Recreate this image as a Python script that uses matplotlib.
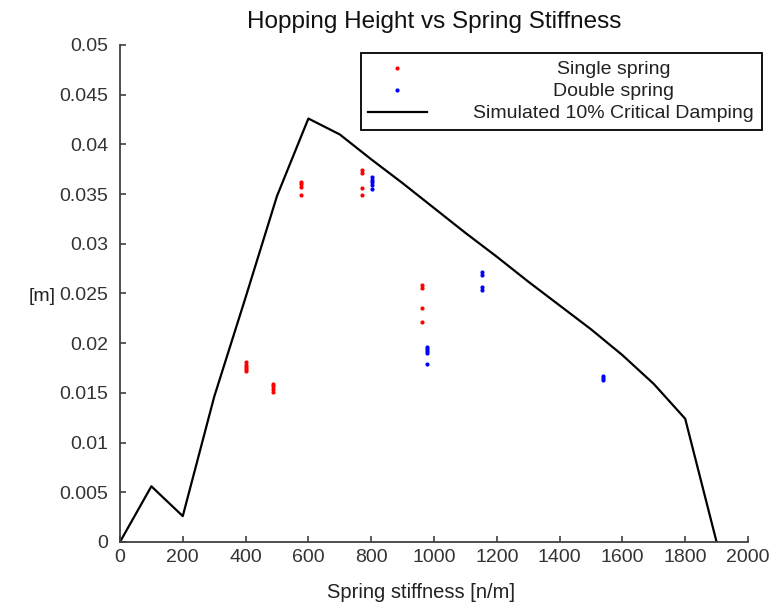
import numpy as np
import matplotlib
matplotlib.use("Agg")
import matplotlib.pyplot as plt

plt.rcParams['font.family'] = ['Liberation Sans', 'DejaVu Sans']

# simulated curve, 10% critical damping
k_sim = [0, 100, 200, 300, 400, 500, 600, 700, 800, 900, 1000, 1100,
         1200, 1300, 1400, 1500, 1600, 1700, 1800, 1900]
h_sim = [0, 0.0056, 0.0026, 0.0146, 0.0246, 0.0348, 0.0426, 0.0410, 0.0385,
         0.0361, 0.0336, 0.0311, 0.0287, 0.0262, 0.0238, 0.0214, 0.0188,
         0.0159, 0.0124, 0]

# measured, single spring
k_single = [400, 400, 400, 400, 400, 488, 488, 488, 488,
            577, 577, 577, 577, 770, 770, 770, 770, 961, 961, 961, 961]
h_single = [0.0181, 0.0178, 0.0176, 0.0174, 0.0172, 0.0159, 0.0157, 0.0154, 0.0151,
            0.0362, 0.0360, 0.0357, 0.0349, 0.0374, 0.0371, 0.0356, 0.0349,
            0.0259, 0.0256, 0.0235, 0.0221]

# measured, double spring
k_double = [804, 804, 804, 804, 804, 979, 979, 979, 979, 979,
            1154, 1154, 1154, 1154, 1539, 1539, 1539]
h_double = [0.0367, 0.0364, 0.0362, 0.0359, 0.0355, 0.0196, 0.0194, 0.0192, 0.0190, 0.0179,
            0.0272, 0.0269, 0.0257, 0.0253, 0.0167, 0.0165, 0.0163]

fig = plt.figure(figsize=(7.72, 6.03), dpi=100)
ax = fig.add_axes([0.1554, 0.1012, 0.8135, 0.8242])

ax.plot(k_single, h_single, 'o', color='#ff0000', ms=3.0, mew=0, label='Single spring')
ax.plot(k_double, h_double, 'o', color='#0000ff', ms=3.0, mew=0, label='Double spring')
ax.plot(k_sim, h_sim, color='black', lw=1.6, label='Simulated 10% Critical Damping')

ax.set_xlim(0, 2000)
ax.set_ylim(0, 0.05)
ax.set_xticks(np.arange(0, 2001, 200))
ax.set_yticks(np.arange(0, 0.0501, 0.005))
ax.set_yticklabels(['0', '0.005', '0.01', '0.015', '0.02', '0.025', '0.03',
                    '0.035', '0.04', '0.045', '0.05'])

for s in ['top', 'right']:
    ax.spines[s].set_visible(False)
for s in ['left', 'bottom']:
    ax.spines[s].set_color('#404040')
    ax.spines[s].set_linewidth(1.3)
ax.tick_params(direction='in', length=4, width=1.2, color='#404040',
               labelsize=14, labelcolor='#333333')
ax.tick_params(axis='x', pad=5)
ax.tick_params(axis='y', pad=8.5)

ax.set_title('Hopping Height vs Spring Stiffness', fontsize=17.5, y=1.046,
             va='center', pad=0, color='#111111')
ax.set_xlabel('Spring stiffness [n/m]', fontsize=14.5, color='#222222')
ax.xaxis.set_label_coords(0.479, -0.102)
ax.xaxis.label.set_va('center')
ax.set_ylabel('[m]', fontsize=14, rotation=0, ha='center', va='center', color='#222222')
ax.yaxis.set_label_coords(-0.124, 0.493)

leg = ax.legend(loc='upper right', bbox_to_anchor=(1.022, 0.984), numpoints=1,
                fontsize=14, handlelength=3.0, labelspacing=0.23,
                fancybox=False, framealpha=1, edgecolor='black',
                borderpad=0.4, handletextpad=2.4, borderaxespad=0)
leg.get_frame().set_linewidth(1.3)
for t in leg.get_texts():
    t.set_color('#222222')

# centre the legend labels in their column
fig.canvas.draw()
r = fig.canvas.get_renderer()
texts = leg.get_texts()
widths = [t.get_window_extent(r).width for t in texts]
wmax = max(widths)
for t, w in zip(texts, widths):
    t.set_x((wmax - w) / 2)

fig.savefig('out.png', dpi=100)
